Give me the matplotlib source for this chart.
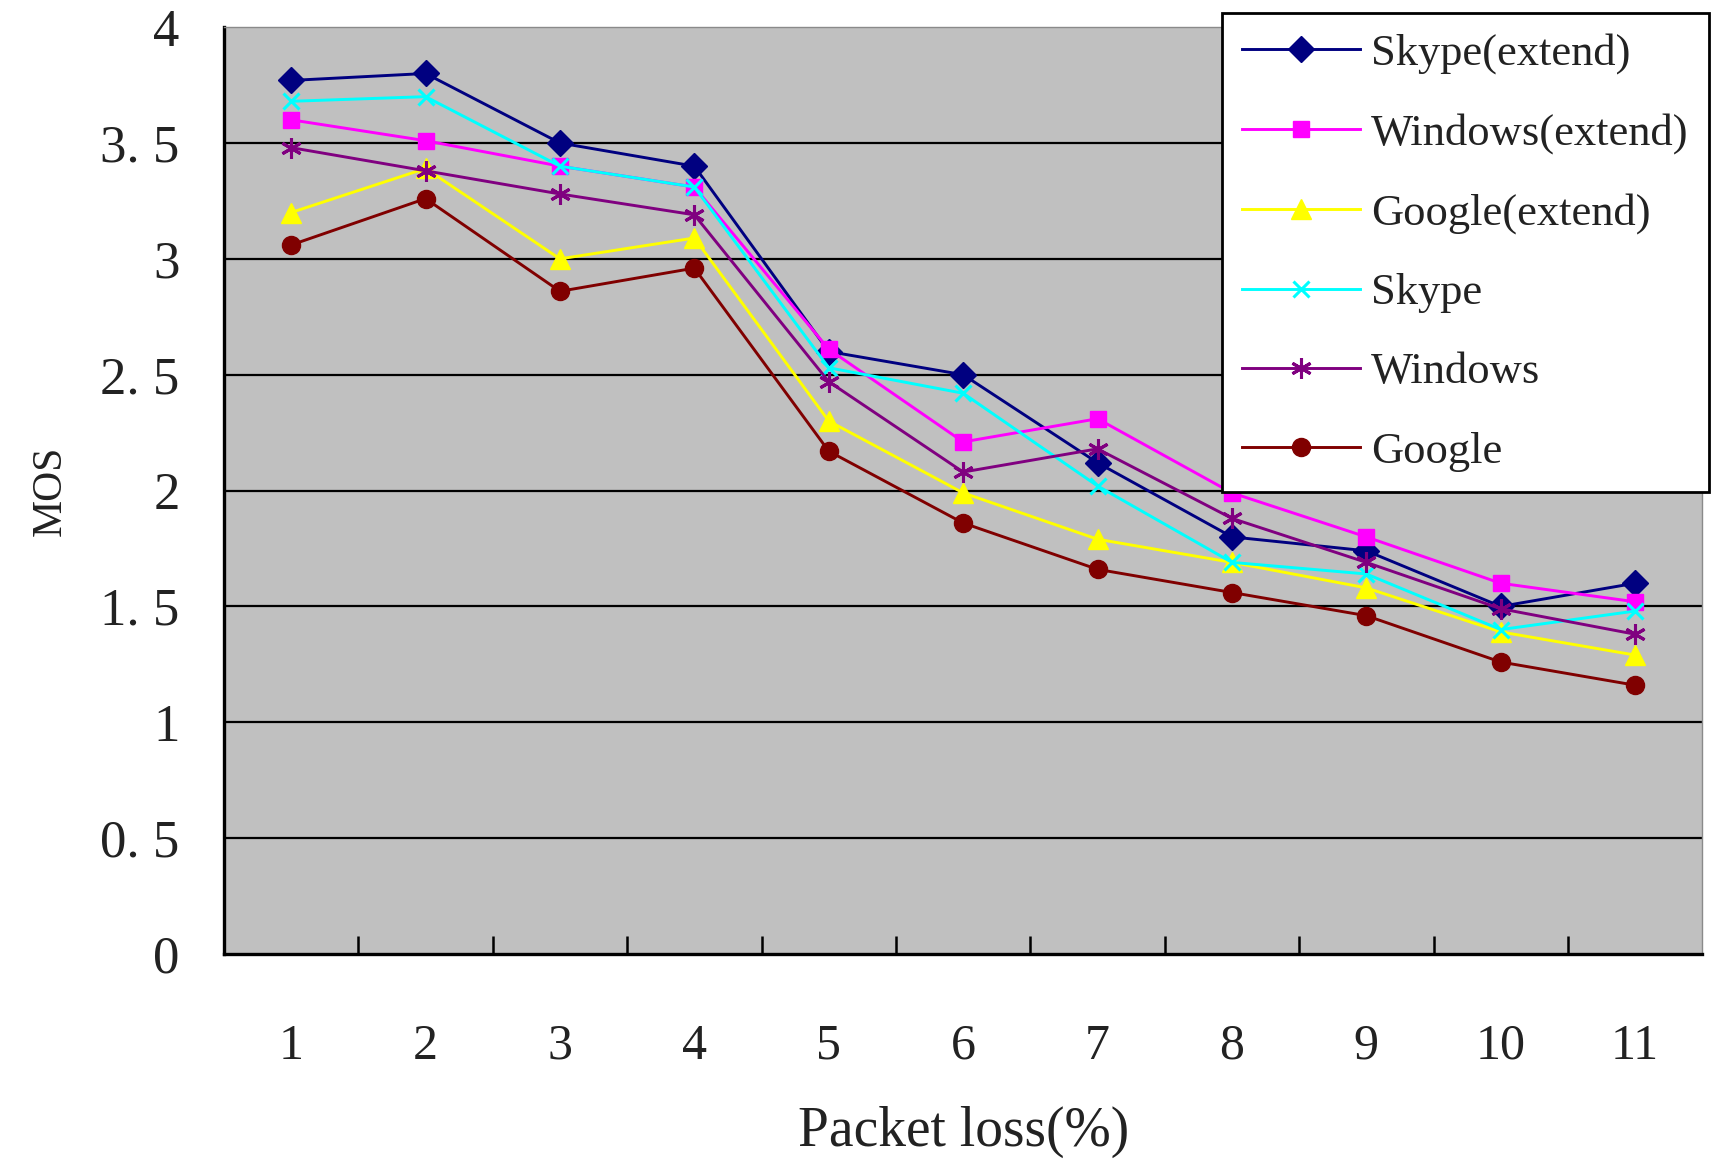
"""
MOS vs packet loss for the six codecs (Excel-style line chart).
"""
import matplotlib
matplotlib.use("Agg")
import matplotlib.pyplot as plt
import numpy as np

# ─────────────────────────────────────────────────────────────────────────────
# Data
# ─────────────────────────────────────────────────────────────────────────────
packet_loss = [1, 2, 3, 4, 5, 6, 7, 8, 9, 10, 11]

skype_ext = [3.77, 3.80, 3.50, 3.40, 2.60, 2.50, 2.12, 1.80, 1.74, 1.50, 1.60]
windows_ext = [3.60, 3.51, 3.40, 3.31, 2.61, 2.21, 2.31, 1.99, 1.80, 1.60, 1.52]
google_ext = [3.20, 3.39, 3.00, 3.09, 2.30, 1.99, 1.79, 1.69, 1.58, 1.39, 1.29]
skype = [3.68, 3.70, 3.40, 3.31, 2.53, 2.42, 2.02, 1.69, 1.64, 1.40, 1.48]
windows = [3.48, 3.38, 3.28, 3.19, 2.47, 2.08, 2.18, 1.88, 1.69, 1.49, 1.38]
google = [3.06, 3.26, 2.86, 2.96, 2.17, 1.86, 1.66, 1.56, 1.46, 1.26, 1.16]

y_ticks = [0, 0.5, 1, 1.5, 2, 2.5, 3, 3.5, 4]
y_ticklabels = ["0", "0. 5", "1", "1. 5", "2", "2. 5", "3", "3. 5", "4"]

series = [
    ("Skype(extend)", skype_ext, "#000080", "D", 13),
    ("Windows(extend)", windows_ext, "#FF00FF", "s", 12),
    ("Google(extend)", google_ext, "#FFFF00", "^", 14),
    ("Skype", skype, "#00FFFF", "x", 12),
    ("Windows", windows, "#800080", (6, 2, 0), 15),
    ("Google", google, "#800000", "o", 13),
]

FONT = "Liberation Serif"
TEXT_COLOR = "#222222"

fig = plt.figure(figsize=(17.15, 11.6), dpi=100)
ax = fig.add_axes([0.1306, 0.1776, 0.862, 0.799])
ax.set_facecolor("#C0C0C0")

# gridlines (Excel style: black, no line at the top)
for y in y_ticks[1:-1]:
    ax.axhline(y, color="black", linewidth=1.6, zorder=1)

x = np.array(packet_loss)
for label, vals, color, marker, ms in series:
    mew = 2.2 if marker == "x" or isinstance(marker, tuple) else 1
    ax.plot(x, vals, color=color, linewidth=2.1, marker=marker, markersize=ms,
            markeredgewidth=mew, markeredgecolor=color, markerfacecolor=color,
            label=label, zorder=3)

ax.set_xlim(0.5, 11.5)
ax.set_ylim(0, 4)

ax.set_yticks(y_ticks)
ax.set_yticklabels(y_ticklabels, fontfamily=FONT, fontsize=38, color=TEXT_COLOR)
ax.tick_params(axis="y", length=0, pad=32)

ax.set_xticks(packet_loss)
ax.set_xticklabels([str(v) for v in packet_loss], fontfamily=FONT, fontsize=36,
                   color=TEXT_COLOR)
ax.tick_params(axis="x", which="major", length=0, pad=50)
ax.set_xticks(np.arange(1.5, 11, 1), minor=True)
ax.tick_params(axis="x", which="minor", direction="in", length=13, width=1.8,
               color="black")

ax.set_xlabel("Packet loss(%)", fontfamily=FONT, fontsize=40, color=TEXT_COLOR,
              labelpad=26)
ax.set_ylabel("MOS", fontfamily=FONT, fontsize=30, color=TEXT_COLOR, labelpad=22)

for side in ("left", "bottom"):
    ax.spines[side].set_color("black")
    ax.spines[side].set_linewidth(2.4)
for side in ("top", "right"):
    ax.spines[side].set_color("#8A8A8A")
    ax.spines[side].set_linewidth(1.0)

leg = ax.legend(loc="upper right", bbox_to_anchor=(0.9965, 0.989),
                bbox_transform=fig.transFigure, borderaxespad=0,
                prop={"family": FONT, "size": 32}, labelspacing=0.88,
                handlelength=2.65, handletextpad=0.25, borderpad=0.45,
                fancybox=False, framealpha=1, edgecolor="black")
leg.get_frame().set_linewidth(2.0)
for t in leg.get_texts():
    t.set_color(TEXT_COLOR)
leg.set_zorder(5)

fig.savefig("out.png", dpi=100)
